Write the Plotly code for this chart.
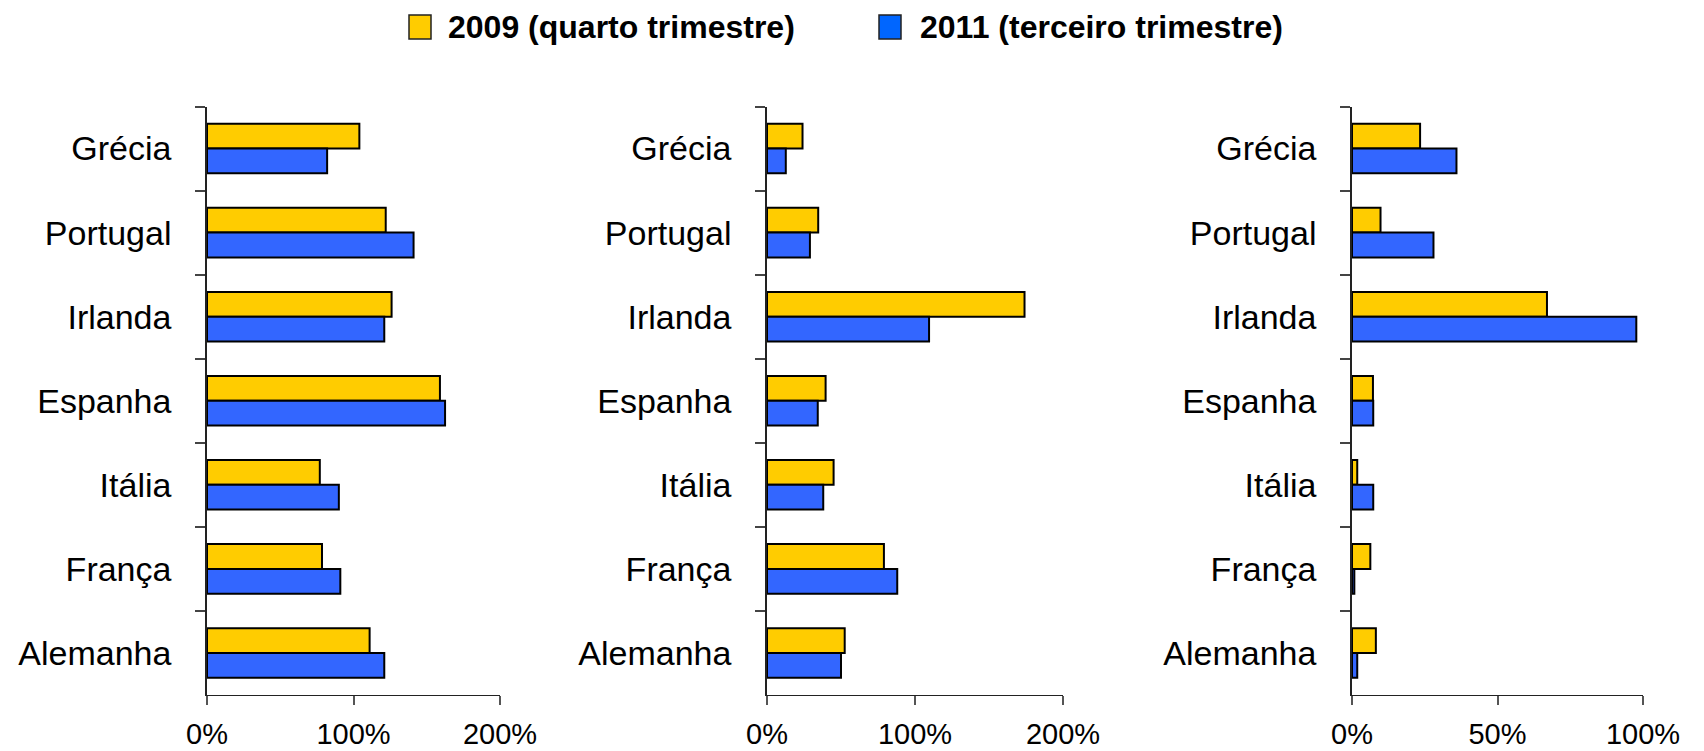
import plotly.graph_objects as go

countries = ["Grécia", "Portugal", "Irlanda", "Espanha", "Itália", "França", "Alemanha"]
series_names = ["2009 (quarto trimestre)", "2011 (terceiro trimestre)"]

# Panel 1 values (%)
p1_2009 = [104, 122, 126, 159, 77, 78.5, 111]
p1_2011 = [82, 141, 121, 162.5, 90, 91, 121]
# Panel 2 values (%)
p2_2009 = [24, 34.6, 174, 39.6, 45, 79, 52.5]
p2_2011 = [12.7, 29, 109.5, 34.3, 38, 88, 50]
# Panel 3 values (%)
p3_2009 = [23.4, 9.8, 67, 7.2, 1.8, 6.3, 8.2]
p3_2011 = [35.9, 28, 97.7, 7.3, 7.3, 0.8, 1.8]

p1_ticks = [0, 100, 200]
p2_ticks = [0, 100, 200]
p3_ticks = [0, 50, 100]

YELLOW = "#FFCC00"
BLUE = "#3366FF"
LEG_BLUE = "#0066FF"
FONT = "Liberation Sans, Arial, sans-serif"

# The page body has an 8px default margin, so the figure is sized to fit the window.
OFF = 8
W, H = 1704 - OFF, 751 - OFF


def px(X):
    return (X - OFF) / W


def py(Y):
    return 1 - (Y - OFF) / H


panels = [
    (p1_2009, p1_2011, p1_ticks, "x", "y"),
    (p2_2009, p2_2011, p2_ticks, "x2", "y2"),
    (p3_2009, p3_2011, p3_ticks, "x3", "y3"),
]

fig = go.Figure()
for a, b, ticks, xa, ya in panels:
    for vals, col, name in ((a, YELLOW, series_names[0]), (b, BLUE, series_names[1])):
        fig.add_trace(go.Bar(
            y=countries, x=vals, orientation="h", name=name,
            marker=dict(color=col, line=dict(color="#000000", width=2)),
            xaxis=xa, yaxis=ya, showlegend=False,
        ))

x_domains = [[px(207), px(500)], [px(767), px(1063)], [px(1352), px(1643)]]
y_domain = [py(695), py(106.5)]

layout = dict(
    template="none",
    width=W, height=H,
    margin=dict(l=0, r=0, t=0, b=0, autoexpand=False),
    paper_bgcolor="white", plot_bgcolor="white",
    barmode="group", bargap=0.41, bargroupgap=0,
    font=dict(family=FONT, color="#000000"),
    showlegend=False,
)

for i, (a, b, ticks, xa, ya) in enumerate(panels):
    sfx = "" if i == 0 else str(i + 1)
    layout["xaxis" + sfx] = dict(
        domain=x_domains[i], anchor=ya, range=[0, ticks[-1]],
        tickvals=ticks, ticktext=[f"{t}%" for t in ticks],
        ticks="outside", ticklen=9, tickcolor="#555555", tickwidth=1.5,
        showline=True, linecolor="#222222", linewidth=1.2,
        showgrid=False, zeroline=False, automargin=False,
        tickfont=dict(size=29, color="#000000", family=FONT),
        ticklabelstandoff=4,
    )
    layout["yaxis" + sfx] = dict(
        domain=y_domain, anchor=xa, type="category",
        categoryorder="array", categoryarray=countries, autorange="reversed",
        ticks="outside", ticklen=10, tickson="boundaries", tickcolor="#444444", tickwidth=1.5,
        showline=True, linecolor="#222222", linewidth=1.5,
        showgrid=False, zeroline=False, automargin=False,
        tickfont=dict(size=34, color="#000000", family=FONT),
        ticklabelstandoff=27,
    )

# legend drawn as squares + text
shapes = []
annotations = []
for (sx0, sx1, tx), col, name in (((409, 431, 446), YELLOW, series_names[0]),
                                   ((879, 901, 918), LEG_BLUE, series_names[1])):
    shapes.append(dict(type="rect", xref="paper", yref="paper",
                       x0=px(sx0), x1=px(sx1), y0=py(39), y1=py(15),
                       fillcolor=col, line=dict(color="#222222", width=1.5)))
    annotations.append(dict(xref="paper", yref="paper", x=px(tx), y=py(27),
                            xanchor="left", yanchor="middle", showarrow=False,
                            text=f"<b>{name}</b>",
                            font=dict(size=32, family=FONT, color="#000000")))
layout["shapes"] = shapes
layout["annotations"] = annotations

fig.update_layout(**layout)
fig.write_html("out.html")
